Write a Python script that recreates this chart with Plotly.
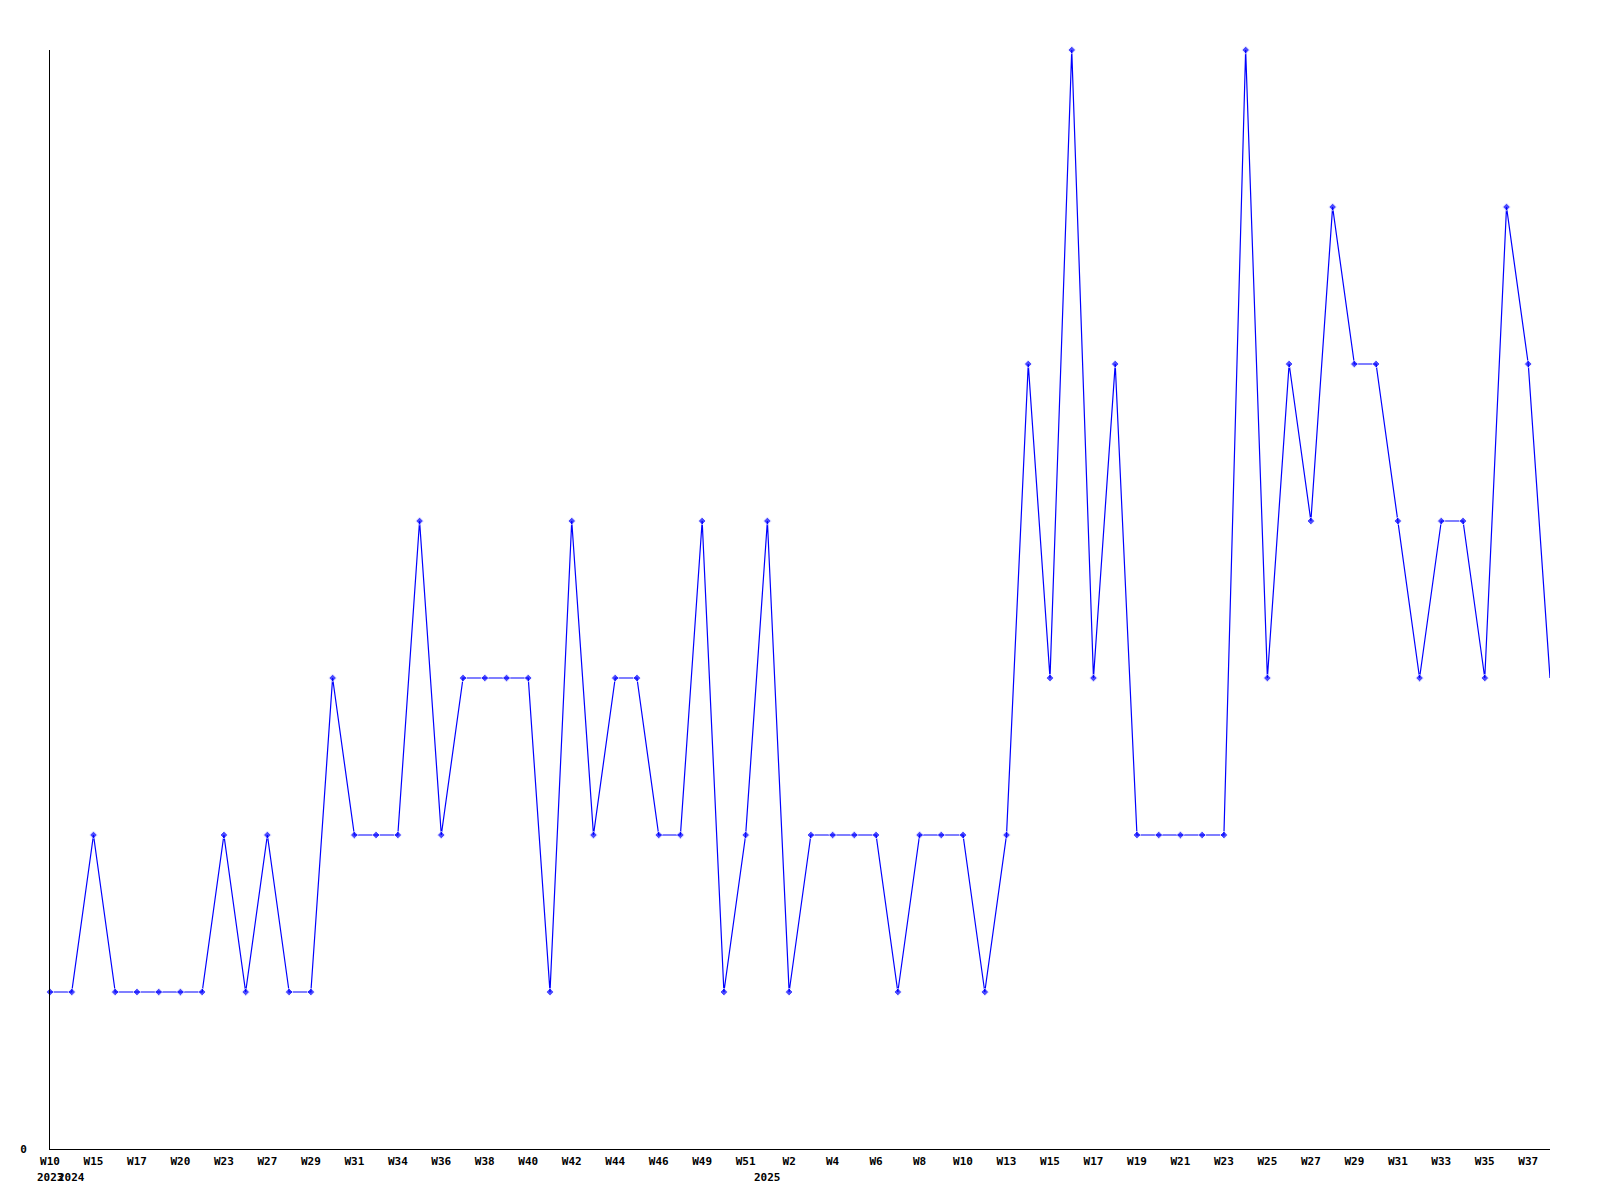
import plotly.graph_objects as go

# ---- data ----
years = [2023] + [2024] * 32 + [2025] * 37
weeks = [
    "W10", "W14", "W15", "W16", "W17", "W19", "W20", "W22", "W23", "W25",
    "W27", "W28", "W29", "W30", "W31", "W33", "W34", "W35", "W36", "W37",
    "W38", "W39", "W40", "W41", "W42", "W43", "W44", "W45", "W46", "W48",
    "W49", "W50", "W51", "W1", "W2", "W3", "W4", "W5", "W6", "W7",
    "W8", "W9", "W10", "W12", "W13", "W14", "W15", "W16", "W17", "W18",
    "W19", "W20", "W21", "W22", "W23", "W24", "W25", "W26", "W27", "W28",
    "W29", "W30", "W31", "W32", "W33", "W34", "W35", "W36", "W37", "W38",
]
values = [
    1, 1, 2, 1, 1, 1, 1, 1, 2, 1,
    2, 1, 1, 3, 2, 2, 2, 4, 2, 3,
    3, 3, 3, 1, 4, 2, 3, 3, 2, 2,
    4, 1, 2, 4, 1, 2, 2, 2, 2, 1,
    2, 2, 2, 1, 2, 5, 3, 7, 3, 5,
    2, 2, 2, 2, 2, 7, 3, 5, 4, 6,
    5, 5, 4, 3, 4, 4, 3, 6, 5, 3,
]
y_ticks = [0]
y_ticktext = ["0"]

# ---- figure ----
cats = [f"{y}-{w}" for y, w in zip(years, weeks)]
n = len(cats)
marker_sizes = [6] * (n - 1) + [0]

fig = go.Figure()
fig.add_trace(go.Scatter(
    x=cats, y=values, mode="lines+markers",
    line=dict(color="#0000ff", width=1.2),
    marker=dict(symbol="diamond", size=marker_sizes, color="#0000ff"),
    cliponaxis=False,
    hoverinfo="x+y",
))

font = dict(family="DejaVu Sans Mono", size=11, color="#000000", weight="bold")

tick_idx = list(range(0, n, 2))
fig.update_xaxes(
    type="category",
    range=[0, n - 1],
    tickvals=[cats[i] for i in tick_idx],
    ticktext=[weeks[i] for i in tick_idx],
    tickfont=font,
    showline=True, linecolor="#000000", linewidth=1,
    showgrid=False, zeroline=False, ticks="", tickangle=0,
    ticklabelstandoff=2,
)
fig.update_yaxes(
    range=[0, max(values)],
    tickvals=y_ticks, ticktext=y_ticktext,
    tickfont=font,
    showline=True, linecolor="#000000", linewidth=1,
    showgrid=False, zeroline=False, ticks="",
    ticklabelstandoff=20,
)

# year labels at first point of each year
seen = set()
for i, y in enumerate(years):
    if y not in seen:
        seen.add(y)
        fig.add_annotation(
            x=cats[i], y=0, xref="x", yref="paper",
            text=str(y), showarrow=False, font=font,
            yanchor="top", yshift=-20,
        )

fig.update_layout(
    width=1592, height=1192,
    margin=dict(l=42, r=50, t=42, b=51),
    plot_bgcolor="#ffffff", paper_bgcolor="#ffffff",
    showlegend=False,
)

fig.write_html("out.html")
